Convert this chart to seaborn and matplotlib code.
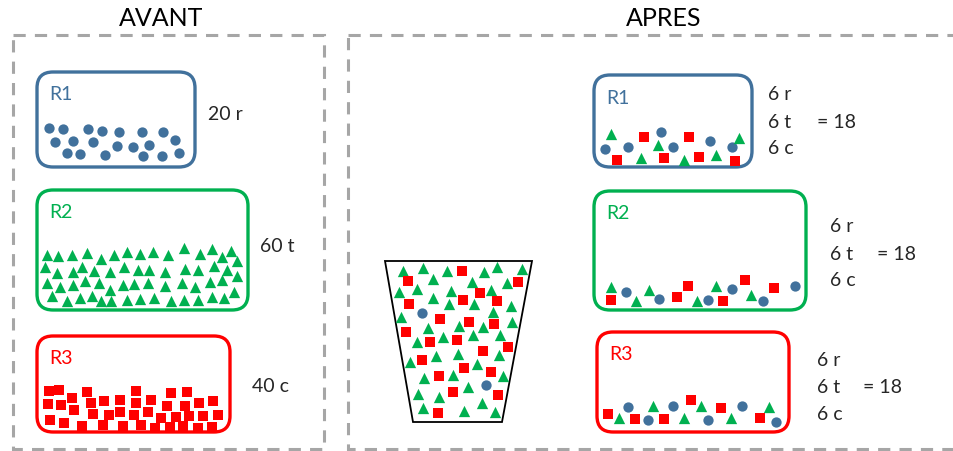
import matplotlib
matplotlib.use("Agg")
import matplotlib.pyplot as plt
import seaborn as sns
import pandas as pd
from matplotlib.patches import FancyBboxPatch, Rectangle, Polygon

# couleurs
BLEU = "#41719c"
VERT = "#00b050"
ROUGE = "#ff0000"
GRIS = "#a6a6a6"

# titres et textes
titres = ["AVANT", "APRES"]
labels_avant = ["20 r", "60 t", "40 c"]
labels_apres = ["6 r", "6 t", "6 c"]
total_apres = "= 18"

# --- AVANT : positions des billes (pixels) ---
avant_r1_ronds = [(49, 129), (63, 130), (88, 130), (102, 132), (119, 133), (142, 133), (163, 133),
                  (55, 143), (73, 142), (93, 143), (117, 147), (133, 148), (149, 146), (175, 141),
                  (67, 154), (80, 155), (105, 156), (143, 157), (162, 157), (179, 154)]

avant_r2_triangles_z = [(50, 213), (85, 215), (125, 213), (170, 207), (213, 225), (252, 212), (292, 203),
                        (330, 210), (370, 205), (415, 212), (462, 193), (510, 210), (545, 195), (575, 218),
                        (603, 200), (622, 232),
                        (45, 250), (82, 268), (128, 265), (157, 250), (192, 262), (240, 265), (283, 250),
                        (325, 258), (357, 258), (405, 265), (465, 255), (505, 258), (552, 245), (590, 258),
                        (622, 275),
                        (50, 297), (90, 310), (130, 302), (165, 290), (208, 298), (240, 318), (278, 303),
                        (312, 300), (353, 298), (405, 305), (455, 298), (495, 310), (540, 295), (575, 288),
                        (65, 335), (110, 350), (150, 342), (185, 335), (212, 350), (243, 352), (292, 348),
                        (330, 345), (372, 342), (422, 350), (462, 348), (505, 348), (545, 340), (582, 342),
                        (612, 325)]

avant_r3_carres_z = [(57, 187), (88, 183), (127, 208), (170, 190), (55, 225), (92, 228), (132, 242),
                     (182, 222), (188, 255), (222, 217), (237, 257), (270, 212), (270, 250), (318, 187),
                     (317, 222), (312, 258), (362, 212), (355, 250), (410, 230), (423, 192), (393, 268),
                     (437, 265), (472, 188), (465, 230), (478, 262), (507, 223), (520, 262), (550, 217),
                     (565, 257), (60, 272), (102, 283), (157, 290), (218, 288), (278, 290), (333, 287),
                     (375, 297), (420, 295), (458, 292), (503, 297), (545, 293)]

# --- seau ---
seau_triangles_z = [(98, 65), (158, 57), (230, 67), (342, 68), (382, 55), (455, 60), (190, 90), (305, 100),
                    (410, 103), (88, 128), (142, 120), (243, 127), (362, 122), (190, 148), (237, 165),
                    (312, 165), (422, 170), (92, 203), (368, 190), (425, 218), (175, 238), (268, 232),
                    (340, 233), (390, 258), (140, 280), (218, 265), (310, 258), (265, 315), (198, 322),
                    (120, 340), (388, 318), (320, 345), (162, 387), (248, 377), (398, 382), (145, 435),
                    (208, 445), (295, 415), (335, 463), (158, 478), (282, 485), (375, 490)]
seau_carres_z = [(275, 65), (115, 97), (445, 100), (330, 133), (118, 165), (280, 153), (380, 155),
                 (210, 210), (298, 218), (372, 225), (108, 248), (180, 278), (262, 273), (415, 293),
                 (340, 305), (157, 333), (283, 358), (362, 368), (208, 380), (250, 428), (383, 438),
                 (203, 492)]
seau_ronds_z = [(155, 192), (347, 408)]

# --- APRES ---
apres_r1_ronds_z = [(75, 270), (143, 265), (243, 220), (280, 263), (390, 245), (455, 265)]
apres_r1_triangles_z = [(93, 225), (233, 258), (182, 297), (312, 303), (408, 287), (478, 238)]
apres_r1_carres_z = [(192, 233), (110, 303), (253, 298), (326, 235), (358, 293), (465, 305)]

apres_r2_ronds_z = [(137, 325), (237, 345), (385, 348), (457, 316), (548, 350), (645, 305)]
apres_r2_triangles_z = [(93, 310), (167, 352), (207, 318), (350, 350), (408, 305), (513, 333)]
apres_r2_carres_z = [(93, 348), (290, 338), (323, 307), (430, 352), (495, 287), (583, 312)]

apres_r3_ronds_z = [(143, 265), (205, 302), (278, 262), (385, 302), (487, 262), (587, 310)]
apres_r3_triangles_z = [(118, 298), (218, 262), (313, 298), (363, 262), (453, 298), (567, 265)]
apres_r3_carres_z = [(83, 285), (165, 300), (253, 300), (332, 242), (423, 268), (540, 298)]


def depuis_zoom(pts, x0, y0):
    # les positions ont ete relevees sur des agrandissements x3
    return [(x0 + zx / 3, y0 + zy / 3) for zx, zy in pts]


groupes = [
    (avant_r1_ronds, "r"),
    (depuis_zoom(avant_r2_triangles_z, 30, 185), "t"),
    (depuis_zoom(avant_r3_carres_z, 30, 330), "c"),
    (depuis_zoom(seau_triangles_z, 370, 250), "t"),
    (depuis_zoom(seau_carres_z, 370, 250), "c"),
    (depuis_zoom(seau_ronds_z, 370, 250), "r"),
    (depuis_zoom(apres_r1_ronds_z, 580, 60), "r"),
    (depuis_zoom(apres_r1_triangles_z, 580, 60), "t"),
    (depuis_zoom(apres_r1_carres_z, 580, 60), "c"),
    (depuis_zoom(apres_r2_ronds_z, 580, 185), "r"),
    (depuis_zoom(apres_r2_triangles_z, 580, 185), "t"),
    (depuis_zoom(apres_r2_carres_z, 580, 185), "c"),
    (depuis_zoom(apres_r3_ronds_z, 580, 320), "r"),
    (depuis_zoom(apres_r3_triangles_z, 580, 320), "t"),
    (depuis_zoom(apres_r3_carres_z, 580, 320), "c"),
]
rows = []
for pts, forme in groupes:
    for x, y in pts:
        rows.append({"x": x, "y": y, "forme": forme})
df = pd.DataFrame(rows)

sns.set_theme(style="white")
plt.rcParams["font.family"] = ["Lato", "DejaVu Sans"]

fig = plt.figure(figsize=(9.54, 4.52), dpi=100)
ax = fig.add_axes([0, 0, 1, 1])

# billes
styles = {"r": ("o", BLEU, 55), "t": ("^", VERT, 66), "c": ("s", ROUGE, 42)}
for forme, (marq, coul, taille) in styles.items():
    sub = df[df["forme"] == forme]
    sns.scatterplot(data=sub, x="x", y="y", marker=marq, color=coul, s=taille,
                    linewidth=0, ax=ax, legend=False, zorder=3)

ax.set_xlim(0, 954)
ax.set_ylim(452, 0)
ax.axis("off")

# cadres en pointilles
for x0, w in [(13, 311), (348, 640)]:
    ax.add_patch(Rectangle((x0, 36), w, 414, fill=False, edgecolor=GRIS, lw=2.2,
                           linestyle=(0, (4, 3))))

ax.text(161, 19, titres[0], fontsize=18, ha="center", va="center", color="black")
ax.text(664, 19, titres[1], fontsize=18, ha="center", va="center", color="black")

# reservoirs (x0, y0, x1, y1, couleur, nom)
boites = [
    (37, 73, 195, 168, BLEU, "R1"),
    (37, 191, 248, 311, VERT, "R2"),
    (37, 337, 230, 433, ROUGE, "R3"),
    (594, 76, 752, 168, BLEU, "R1"),
    (594, 192, 806, 311, VERT, "R2"),
    (597, 333, 789, 433, ROUGE, "R3"),
]
for x0, y0, x1, y1, coul, nom in boites:
    ax.add_patch(FancyBboxPatch((x0, y0), x1 - x0, y1 - y0,
                                boxstyle="round,pad=0,rounding_size=16",
                                fill=False, edgecolor=coul, lw=2.4))
    ax.text(x0 + 12, y0 + 22, nom, fontsize=14, color=coul, ha="left", va="center")

# seau
ax.add_patch(Polygon([(385, 262), (532, 262), (502, 423), (413, 423)], closed=True,
                     fill=False, edgecolor="black", lw=1.3))

# textes AVANT
for (x, y), lab in zip([(208, 115), (260, 247), (252, 387)], labels_avant):
    ax.text(x, y, lab, fontsize=14, ha="left", va="center")

# textes APRES
for x, yc, xt in [(768, 122, 817), (830, 254, 877), (817, 388, 863)]:
    for dy, lab in zip([-27, 0, 27], labels_apres):
        ax.text(x, yc + dy, lab, fontsize=14, ha="left", va="center")
    ax.text(xt, yc, total_apres, fontsize=14, ha="left", va="center")

fig.savefig("out.png", dpi=100)
